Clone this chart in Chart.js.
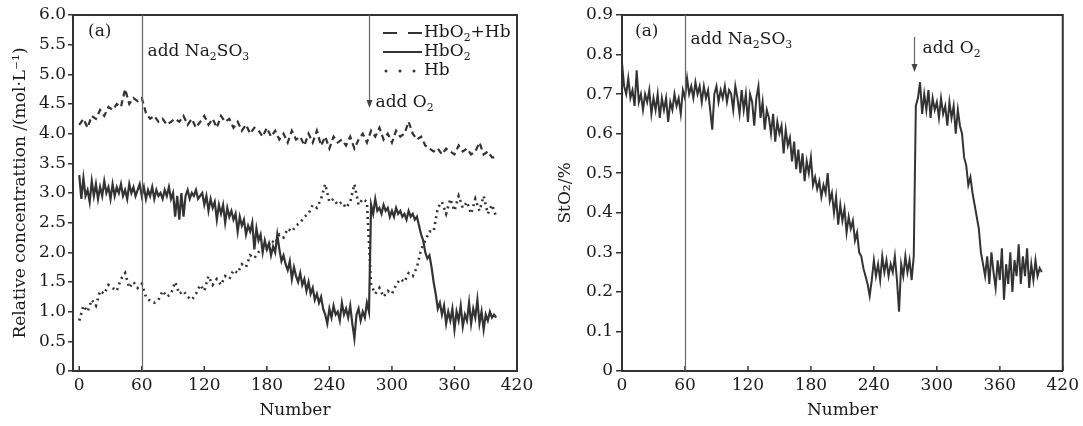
<!DOCTYPE html>
<html>
<head>
<meta charset="utf-8">
<script src="https://cdn.jsdelivr.net/npm/chart.js@4.4.0/dist/chart.umd.min.js"></script>
<style>
  html, body { margin: 0; padding: 0; background: #fff; }
  #wrap { position: relative; width: 1083px; height: 426px; }
  #left { position: absolute; left: 0; top: 0; }
  #right { position: absolute; left: 540px; top: 0; }
</style>
</head>
<body>
<div id="wrap">
  <canvas id="left" width="540" height="426"></canvas>
  <canvas id="right" width="543" height="426"></canvas>
</div>
<script>
// sample numbers for the dashed / dotted series (every 4th)
const sampleCoarse = [0,4,8,12,16,20,24,28,32,36,
  40,44,48,52,56,60,64,68,72,76,
  80,84,88,92,96,100,104,108,112,116,
  120,124,128,132,136,140,144,148,152,156,
  160,164,168,172,176,180,184,188,192,196,
  200,204,208,212,216,220,224,228,232,236,
  240,244,248,252,256,260,264,268,272,276,
  280,284,288,292,296,300,304,308,312,316,
  320,324,328,332,336,340,344,348,352,356,
  360,364,368,372,376,380,384,388,392,396,
  400];

// sample numbers for the solid series (every 2nd)
const sampleFine = [0,2,4,6,8,10,12,14,16,18,
  20,22,24,26,28,30,32,34,36,38,
  40,42,44,46,48,50,52,54,56,58,
  60,62,64,66,68,70,72,74,76,78,
  80,82,84,86,88,90,92,94,96,98,
  100,102,104,106,108,110,112,114,116,118,
  120,122,124,126,128,130,132,134,136,138,
  140,142,144,146,148,150,152,154,156,158,
  160,162,164,166,168,170,172,174,176,178,
  180,182,184,186,188,190,192,194,196,198,
  200,202,204,206,208,210,212,214,216,218,
  220,222,224,226,228,230,232,234,236,238,
  240,242,244,246,248,250,252,254,256,258,
  260,262,264,266,268,270,272,274,276,278,
  280,282,284,286,288,290,292,294,296,298,
  300,302,304,306,308,310,312,314,316,318,
  320,322,324,326,328,330,332,334,336,338,
  340,342,344,346,348,350,352,354,356,358,
  360,362,364,366,368,370,372,374,376,378,
  380,382,384,386,388,390,392,394,396,398,
  400];

// HbO2+Hb
const total = [4.15,4.25,4.10,4.30,4.25,4.40,4.30,4.45,4.40,4.50,
  4.45,4.75,4.50,4.60,4.55,4.60,4.35,4.25,4.30,4.20,
  4.25,4.15,4.20,4.25,4.20,4.30,4.15,4.25,4.10,4.20,
  4.30,4.15,4.25,4.10,4.30,4.20,4.25,4.10,4.20,4.05,
  4.15,4.00,4.10,4.05,3.95,4.10,3.95,4.05,3.90,4.00,
  3.85,4.05,3.90,3.95,3.80,4.00,3.85,4.05,3.80,3.95,
  3.75,3.95,3.85,3.90,3.80,3.95,3.75,3.90,4.00,3.85,
  4.05,3.95,4.10,3.90,4.00,3.85,4.05,3.95,4.00,4.20,
  4.00,3.90,3.95,3.80,3.75,3.70,3.75,3.65,3.75,3.70,
  3.65,3.80,3.70,3.75,3.65,3.70,3.85,3.65,3.70,3.60,
  3.60];

// Hb
const hb = [0.85,1.10,1.00,1.20,1.10,1.35,1.30,1.45,1.40,1.35,
  1.55,1.65,1.40,1.50,1.40,1.47,1.25,1.18,1.15,1.20,
  1.35,1.25,1.30,1.50,1.30,1.35,1.25,1.20,1.30,1.45,
  1.35,1.60,1.45,1.55,1.45,1.60,1.55,1.70,1.65,1.80,
  1.75,1.95,1.90,2.00,2.10,2.05,2.20,2.15,2.30,2.25,
  2.40,2.35,2.45,2.50,2.60,2.65,2.80,2.75,2.90,3.15,
  2.85,2.90,2.80,2.85,2.75,2.85,3.15,2.80,2.90,2.85,
  1.45,1.30,1.40,1.25,1.35,1.30,1.45,1.55,1.50,1.65,
  1.60,1.75,2.05,2.20,2.35,2.35,2.75,2.85,2.65,2.90,
  2.70,2.95,2.75,2.85,2.65,2.90,2.70,2.95,2.65,2.80,
  2.60];

// HbO2
const hbo2 = [3.30,2.90,3.25,2.95,3.05,2.85,3.20,2.95,3.15,2.90,
  3.10,2.95,3.20,3.00,3.10,2.90,3.15,2.95,3.10,3.00,
  3.15,2.95,3.05,2.90,3.15,3.00,3.10,2.95,3.05,3.15,
  2.95,3.10,2.90,3.05,2.95,3.10,2.90,3.05,2.95,3.00,
  2.90,3.05,2.95,3.10,2.90,3.00,2.60,2.95,2.55,3.00,
  2.60,2.95,3.05,2.90,3.00,2.95,3.05,2.90,2.95,3.00,
  2.80,2.95,2.70,2.90,2.75,2.85,2.55,2.80,2.65,2.80,
  2.50,2.75,2.60,2.70,2.55,2.65,2.35,2.60,2.45,2.55,
  2.30,2.45,2.35,2.50,2.05,2.40,2.20,2.30,2.00,2.20,
  2.05,2.15,1.95,2.10,2.00,2.30,2.05,1.85,1.95,1.80,
  1.70,1.85,1.55,1.75,1.60,1.50,1.65,1.45,1.55,1.35,
  1.50,1.30,1.40,1.20,1.30,1.15,1.25,1.05,0.95,0.80,
  1.05,0.90,1.10,0.95,1.00,0.85,1.15,0.95,1.05,0.90,
  1.10,0.80,0.55,0.95,1.05,0.85,1.00,0.90,1.15,1.00,
  2.80,2.65,2.90,2.70,2.75,2.65,2.80,2.70,2.75,2.60,
  2.70,2.60,2.75,2.65,2.70,2.60,2.65,2.55,2.70,2.60,
  2.65,2.55,2.60,2.45,2.30,2.20,2.00,1.90,1.95,1.75,
  1.50,1.30,1.05,1.15,0.95,1.10,0.80,1.00,0.85,1.05,
  0.70,1.00,0.85,1.10,0.75,0.95,0.85,1.15,0.80,1.05,
  0.90,1.20,0.80,1.00,0.70,0.95,0.85,1.00,0.90,0.95,
  0.90];

// StO2
const sto2 = [0.78,0.72,0.70,0.74,0.69,0.71,0.67,0.76,0.68,0.70,
  0.66,0.70,0.68,0.71,0.65,0.69,0.66,0.70,0.64,0.69,
  0.66,0.69,0.63,0.68,0.66,0.70,0.67,0.69,0.65,0.71,
  0.69,0.74,0.70,0.72,0.69,0.73,0.70,0.72,0.68,0.72,
  0.69,0.71,0.66,0.61,0.70,0.72,0.68,0.71,0.69,0.72,
  0.68,0.71,0.70,0.66,0.72,0.69,0.65,0.71,0.66,0.70,
  0.63,0.70,0.68,0.62,0.69,0.72,0.64,0.68,0.61,0.66,
  0.64,0.60,0.65,0.58,0.63,0.60,0.62,0.55,0.61,0.57,
  0.59,0.53,0.58,0.51,0.56,0.50,0.55,0.48,0.53,0.50,
  0.54,0.47,0.49,0.46,0.48,0.44,0.47,0.45,0.50,0.43,
  0.45,0.40,0.44,0.37,0.42,0.38,0.41,0.35,0.39,0.36,
  0.38,0.33,0.35,0.30,0.29,0.26,0.24,0.22,0.19,0.23,
  0.28,0.24,0.27,0.23,0.29,0.25,0.28,0.24,0.27,0.25,
  0.29,0.23,0.15,0.27,0.24,0.29,0.25,0.28,0.23,0.29,
  0.67,0.69,0.73,0.65,0.70,0.66,0.71,0.64,0.69,0.66,
  0.68,0.64,0.69,0.65,0.67,0.62,0.68,0.64,0.67,0.60,
  0.66,0.62,0.60,0.54,0.52,0.47,0.49,0.45,0.42,0.39,
  0.36,0.30,0.27,0.24,0.29,0.22,0.30,0.25,0.21,0.28,
  0.23,0.31,0.18,0.27,0.22,0.30,0.20,0.28,0.24,0.32,
  0.22,0.29,0.24,0.31,0.21,0.27,0.23,0.28,0.24,0.26,
  0.25];

const xTicks = [0, 60, 120, 180, 240, 300, 360, 420];
const concTicks = [0, 0.5, 1, 1.5, 2, 2.5, 3, 3.5, 4, 4.5, 5, 5.5, 6];
const sto2Ticks = [0, 0.1, 0.2, 0.3, 0.4, 0.5, 0.6, 0.7, 0.8, 0.9];
const naAt = 60;   // add Na2SO3
const o2At = 278;  // add O2

const ink = '#333';
const serif = "'DejaVu Serif', 'Liberation Serif', serif";
Chart.defaults.font.family = serif;
Chart.defaults.font.size = 17;
Chart.defaults.color = '#1a1a1a';

function pts(xs, ys) { return ys.map((y, i) => ({ x: xs[i], y: y })); }
function fixTicks(list) { return s => { s.ticks = list.map(v => ({ value: v })); }; }
function fmt(v) { return v === 0 ? '0' : v.toFixed(1); }

// text with subscripts
function rich(ctx, x, y, parts, size) {
  parts.forEach(([t, k]) => {
    const s = k ? size * 0.64 : size;
    ctx.font = s + 'px ' + serif;
    const dy = k === 'sub' ? size * 0.3 : 0;
    ctx.fillText(t, x, y + dy);
    x += ctx.measureText(t).width;
  });
  return x;
}

const marks = {
  id: 'marks',
  afterDatasetsDraw(chart, args, o) {
    const { ctx, chartArea: a, scales: { x } } = chart;
    ctx.save();
    ctx.strokeStyle = ink;
    ctx.lineWidth = 2;
    ctx.beginPath();
    ctx.moveTo(a.left, a.top); ctx.lineTo(a.right, a.top); ctx.lineTo(a.right, a.bottom);
    ctx.stroke();
    ctx.lineWidth = 1.5;
    xTicks.forEach(v => {
      const px = x.getPixelForValue(v);
      ctx.beginPath(); ctx.moveTo(px, a.bottom); ctx.lineTo(px, a.bottom - 5); ctx.stroke();
    });
    // Na2SO3 marker
    const nx = Math.round(x.getPixelForValue(naAt)) + 0.5;
    ctx.strokeStyle = '#666';
    ctx.lineWidth = 1.2;
    ctx.beginPath(); ctx.moveTo(nx, a.top); ctx.lineTo(nx, a.bottom); ctx.stroke();
    // O2 arrow
    const ox = Math.round(x.getPixelForValue(o2At)) + 0.5;
    ctx.beginPath(); ctx.moveTo(ox, o.arrowTop); ctx.lineTo(ox, o.arrowTip - 6); ctx.stroke();
    ctx.fillStyle = '#444';
    ctx.beginPath();
    ctx.moveTo(ox - 3, o.arrowTip - 8); ctx.lineTo(ox + 3, o.arrowTip - 8); ctx.lineTo(ox, o.arrowTip);
    ctx.closePath(); ctx.fill();
    // labels
    ctx.fillStyle = '#1a1a1a';
    ctx.textBaseline = 'middle';
    ctx.textAlign = 'left';
    ctx.font = '17px ' + serif;
    ctx.fillText('(a)', a.left + o.tagDx, o.tagY);
    rich(ctx, nx + 5, o.naY, [['add Na', ''], ['2', 'sub'], ['SO', ''], ['3', 'sub']], 17);
    rich(ctx, ox + o.o2Dx, o.o2Y, [['add O', ''], ['2', 'sub']], 17);
    if (o.legend) {
      const lx = 383, rx = 422, tx = 424;
      const rows = [33, 52, 71];
      ctx.strokeStyle = ink;
      ctx.lineWidth = 2.2;
      ctx.setLineDash([14, 11]);
      ctx.beginPath(); ctx.moveTo(lx, rows[0]); ctx.lineTo(rx, rows[0]); ctx.stroke();
      ctx.setLineDash([]);
      ctx.beginPath(); ctx.moveTo(lx, rows[1]); ctx.lineTo(rx, rows[1]); ctx.stroke();
      ctx.fillStyle = ink;
      [386, 400, 414].forEach(dx => { ctx.beginPath(); ctx.arc(dx, rows[2], 1.5, 0, Math.PI * 2); ctx.fill(); });
      ctx.fillStyle = '#1a1a1a';
      rich(ctx, tx, rows[0], [['HbO', ''], ['2', 'sub'], ['+Hb', '']], 17);
      rich(ctx, tx, rows[1], [['HbO', ''], ['2', 'sub']], 17);
      rich(ctx, tx, rows[2], [['Hb', '']], 17);
    }
    ctx.restore();
  }
};

const common = {
  responsive: false,
  animation: false,
  elements: { point: { radius: 0 }, line: { tension: 0, fill: false, borderCapStyle: 'butt' } }
};

new Chart(document.getElementById('left'), {
  type: 'line',
  data: {
    datasets: [
      { label: 'HbO₂+Hb', data: pts(sampleCoarse, total), borderColor: ink, borderWidth: 2.2, borderDash: [6, 4] },
      { label: 'HbO₂', data: pts(sampleFine, hbo2), borderColor: ink, borderWidth: 2.2 },
      { label: 'Hb', data: pts(sampleCoarse, hb), borderColor: ink, borderWidth: 2.6, borderDash: [2, 4] }
    ]
  },
  options: {
    ...common,
    layout: { padding: { top: 15, right: 23, bottom: 0, left: 0 } },
    plugins: {
      legend: { display: false },
      tooltip: { enabled: false },
      marks: { legend: true, tagDx: 15, tagY: 32, naY: 52, arrowTop: 15, arrowTip: 108, o2Dx: 6, o2Y: 103 }
    },
    scales: {
      x: {
        type: 'linear', min: -6, max: 420,
        afterBuildTicks: fixTicks(xTicks),
        afterFit: s => { s.height = 55; },
        grid: { drawOnChartArea: false, drawTicks: false },
        border: { color: ink, width: 2 },
        ticks: { padding: 4, maxRotation: 0, autoSkip: false },
        title: { display: true, text: 'Number', padding: { top: 0, bottom: 5 } }
      },
      y: {
        min: 0, max: 6,
        afterBuildTicks: fixTicks(concTicks),
        afterFit: s => { s.width = 73; },
        grid: { drawOnChartArea: false, tickLength: 5, color: ink, lineWidth: 1.5 },
        border: { color: ink, width: 2 },
        ticks: { padding: 2, autoSkip: false, callback: fmt },
        title: { display: true, text: 'Relative concentrattion /(mol·L⁻¹)', padding: { top: 10, bottom: 0 } }
      }
    }
  },
  plugins: [marks]
});

new Chart(document.getElementById('right'), {
  type: 'line',
  data: {
    datasets: [
      { label: 'StO₂', data: pts(sampleFine, sto2), borderColor: ink, borderWidth: 2 }
    ]
  },
  options: {
    ...common,
    layout: { padding: { top: 15, right: 18, bottom: 0, left: 0 } },
    plugins: {
      legend: { display: false },
      tooltip: { enabled: false },
      marks: { legend: false, tagDx: 13, tagY: 32, naY: 40, arrowTop: 37, arrowTip: 72, o2Dx: 8, o2Y: 49 }
    },
    scales: {
      x: {
        type: 'linear', min: 0, max: 420,
        afterBuildTicks: fixTicks(xTicks),
        afterFit: s => { s.height = 55; },
        grid: { drawOnChartArea: false, drawTicks: false },
        border: { color: ink, width: 2 },
        ticks: { padding: 4, maxRotation: 0, autoSkip: false },
        title: { display: true, text: 'Number', padding: { top: 0, bottom: 5 } }
      },
      y: {
        min: 0, max: 0.9,
        afterBuildTicks: fixTicks(sto2Ticks),
        afterFit: s => { s.width = 82; },
        grid: { drawOnChartArea: false, tickLength: 6, color: ink, lineWidth: 1.5 },
        border: { color: ink, width: 2 },
        ticks: { padding: 3, autoSkip: false, callback: fmt },
        title: { display: true, text: 'StO₂/%', padding: { top: 15, bottom: 0 } }
      }
    }
  },
  plugins: [marks]
});
</script>
</body>
</html>
